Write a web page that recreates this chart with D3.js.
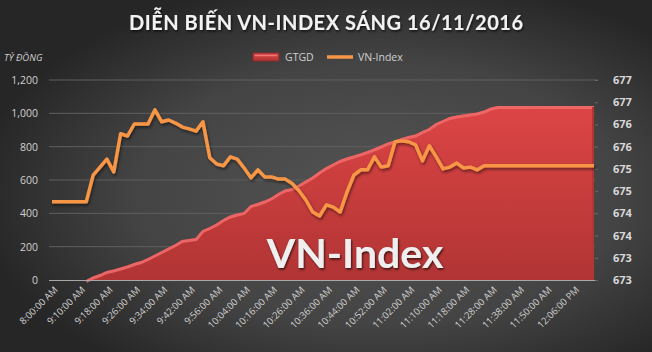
<!DOCTYPE html>
<html><head><meta charset="utf-8">
<script src="https://cdn.jsdelivr.net/npm/d3@7"></script>
<style>html,body{margin:0;padding:0;background:#2b2b2b;}svg{display:block;}</style>
</head><body>
<svg id="c" width="652" height="352"></svg>
<script>
const titleText = "DIỄN BIẾN VN-INDEX SÁNG 16/11/2016";
const leftAxisTitle = "TỶ ĐỒNG";
const seriesNames = ["GTGD", "VN-Index"];
const watermark = "VN-Index";
// 80 time points (categories); every 4th is labelled
const tickLabels = ["8:00:00 AM","9:10:00 AM","9:18:00 AM","9:26:00 AM","9:34:00 AM","9:42:00 AM","9:56:00 AM","10:04:00 AM","10:16:00 AM","10:26:00 AM","10:36:00 AM","10:44:00 AM","10:52:00 AM","11:02:00 AM","11:10:00 AM","11:18:00 AM","11:28:00 AM","11:38:00 AM","11:50:00 AM","12:06:00 PM"];
const tickEvery = 4;
// GTGD (tỷ đồng), cumulative
const gtgd = [0,0,0,0,0,0,21,36,54,63,75,87,102,114,132,153,174,195,216,240,
  246,252,300,318,339,366,387,399,408,450,462,477,495,522,543,552,573,597,621,651,
  678,699,720,735,747,760,774,790,807,825,837,852,864,873,894,912,942,960,978,987,
  993,999,1005,1017,1035,1044,1044,1044,1044,1044,1044,1044,1044,1044,1044,1044,1044,1044,1044,1044];
// VN-Index
const vnindex = [674.56,674.56,674.56,674.56,674.56,674.56,675.16,675.34,675.52,675.23,
  676.09,676.04,676.31,676.31,676.31,676.63,676.36,676.40,676.33,676.24,
  676.20,676.15,676.36,675.55,675.41,675.37,675.57,675.52,675.32,675.10,
  675.28,675.12,675.12,675.07,675.07,674.97,674.81,674.60,674.33,674.24,
  674.49,674.44,674.33,674.78,675.16,675.28,675.28,675.57,675.34,675.37,
  675.91,675.93,675.91,675.84,675.48,675.82,675.57,675.30,675.34,675.43,
  675.32,675.34,675.28,675.37,675.37,675.37,675.37,675.37,675.37,675.37,
  675.37,675.37,675.37,675.37,675.37,675.37,675.37,675.37,675.37,675.37];
const leftTicks = [0,200,400,600,800,1000,1200];
const rightTicks = [672.8,673.3,673.8,674.3,674.8,675.3,675.8,676.3,676.8,677.3];

const svg = d3.select("#c");
const W = 652, H = 352;
const plot = {l: 49, r: 595, t: 80, b: 280};
const defs = svg.append("defs");

const bg = defs.append("radialGradient").attr("id","bg").attr("cx","0.58").attr("cy","0.55").attr("r","0.62");
bg.append("stop").attr("offset","0").attr("stop-color","#545454");
bg.append("stop").attr("offset","0.6").attr("stop-color","#444444");
bg.append("stop").attr("offset","1").attr("stop-color","#262626");
const ag = defs.append("linearGradient").attr("id","ag").attr("x1",0).attr("y1",0).attr("x2",0).attr("y2",1);
ag.append("stop").attr("offset","0").attr("stop-color","#dd4545");
ag.append("stop").attr("offset","1").attr("stop-color","#b13434");
const sh = defs.append("filter").attr("id","sh").attr("x","-5%").attr("y","-20%").attr("width","110%").attr("height","140%");
sh.append("feDropShadow").attr("dx",1).attr("dy",2).attr("stdDeviation",1.5).attr("flood-color","#000").attr("flood-opacity",0.5);
const tsh = defs.append("filter").attr("id","tsh").attr("x","-5%").attr("y","-30%").attr("width","110%").attr("height","160%");
tsh.append("feDropShadow").attr("dx",1).attr("dy",1.5).attr("stdDeviation",1.2).attr("flood-color","#000").attr("flood-opacity",0.7);

svg.append("rect").attr("width",W).attr("height",H).attr("fill","url(#bg)");

const x = d3.scalePoint().domain(d3.range(gtgd.length)).range([52, 594]);
const yL = d3.scaleLinear().domain([0,1200]).range([plot.b, plot.t]);
const yR = d3.scaleLinear().domain([672.8,677.3]).range([plot.b, plot.t]);

// gridlines
svg.append("g").selectAll("line").data(leftTicks.filter(d=>d>0)).join("line")
  .attr("x1",plot.l).attr("x2",d=>d===1200?598:plot.r).attr("y1",d=>yL(d)).attr("y2",d=>yL(d))
  .attr("stroke","#5f5f5f").attr("stroke-width",1);

// left axis
const la = svg.append("g").attr("transform",`translate(${plot.l-11},0)`)
  .call(d3.axisLeft(yL).tickValues(leftTicks).tickFormat(d3.format(",")).tickSize(0).tickPadding(0));
la.select(".domain").remove();
la.selectAll("text").attr("fill","#d0d0d0").attr("font-family","'Open Sans',sans-serif").attr("font-size","10.5px");

// right axis
const ra = svg.append("g").attr("transform",`translate(${plot.r},0)`)
  .call(d3.axisRight(yR).tickValues(rightTicks).tickFormat(d3.format(".0f")).tickSize(3).tickPadding(15));
ra.select(".domain").remove();
ra.selectAll("line").attr("stroke","#6a6a6a");
ra.selectAll("text").attr("fill","#d8d8d8").attr("font-family","'Open Sans',sans-serif").attr("font-weight","bold").attr("font-size","11px");

// area
const area = d3.area().x((d,i)=>x(i)).y0(plot.b).y1(d=>yL(d));
svg.append("path").datum(gtgd).attr("d",area).attr("fill","url(#ag)");
const topLine = d3.line().x((d,i)=>x(i)).y(d=>yL(d)+1.5).defined((d,i)=>i>=5);
svg.append("path").datum(gtgd).attr("d",topLine).attr("fill","none").attr("stroke","#f06a6a").attr("stroke-width",3).attr("opacity",0.9);
svg.append("line").attr("x1",x(gtgd.length-1)-1).attr("x2",x(gtgd.length-1)-1)
  .attr("y1",yL(gtgd[gtgd.length-1])+1).attr("y2",plot.b).attr("stroke","#b43535").attr("stroke-width",2);

// baseline
svg.append("line").attr("x1",plot.l).attr("x2",plot.r).attr("y1",plot.b+0.5).attr("y2",plot.b+0.5)
  .attr("stroke","#a8a8a8").attr("stroke-width",1);

// watermark
svg.append("text").attr("x",355).attr("y",268).attr("text-anchor","middle")
  .attr("font-family","Lato,sans-serif").attr("font-weight","bold").attr("font-size","41px")
  .attr("fill","#efefef").attr("filter","url(#tsh)").text(watermark);

// VN-Index line
const line = d3.line().x((d,i)=>x(i)).y(d=>yR(d));
svg.append("path").datum(vnindex).attr("d",line).attr("fill","none").attr("stroke","#f79646")
  .attr("stroke-width",3.5).attr("stroke-linejoin","round").attr("filter","url(#sh)");

// x axis labels
const xl = svg.append("g");
xl.selectAll("text").data(tickLabels).join("text")
  .attr("transform",(d,i)=>`translate(${x(i*tickEvery)+4},${plot.b+8}) rotate(-45)`)
  .attr("text-anchor","end").attr("dy","0.35em")
  .attr("fill","#d0d0d0").attr("font-family","'Open Sans',sans-serif").attr("font-size","9.5px").text(d=>d);

// title
const t = svg.append("text").attr("x",W/2).attr("y",30).attr("text-anchor","middle")
  .attr("font-family","Lato,sans-serif").attr("font-weight","bold").attr("font-size","20px")
  .attr("fill","#f2f2f2").attr("filter","url(#tsh)").text(titleText);
{
  const n = titleText.length;
  const w0 = t.node().getComputedTextLength();
  const ls = (394 - w0)/(n-1);
  t.attr("letter-spacing", ls+"px").attr("x", W/2 + ls/2);
}

// axis title
svg.append("text").attr("x",4).attr("y",61).attr("font-family","'Open Sans',sans-serif").attr("font-style","italic")
  .attr("font-size","9.5px").attr("fill","#d0d0d0").text(leftAxisTitle);

// legend
const lg = svg.append("g").attr("font-family","'Open Sans',sans-serif").attr("font-size","10.5px").attr("fill","#d0d0d0");
lg.append("rect").attr("x",253).attr("y",53).attr("width",26).attr("height",8).attr("fill","url(#ag)").attr("stroke","#8a2a2a").attr("stroke-width",1);
lg.append("line").attr("x1",255).attr("x2",277).attr("y1",55.5).attr("y2",55.5).attr("stroke","#f07a7a").attr("stroke-width",1.5);
lg.append("text").attr("x",285).attr("y",57).attr("dy","0.35em").text(seriesNames[0]);
lg.append("line").attr("x1",327).attr("x2",353).attr("y1",57).attr("y2",57).attr("stroke","#f79646").attr("stroke-width",3.5);
lg.append("text").attr("x",358).attr("y",57).attr("dy","0.35em").text(seriesNames[1]);
</script>
</body></html>
